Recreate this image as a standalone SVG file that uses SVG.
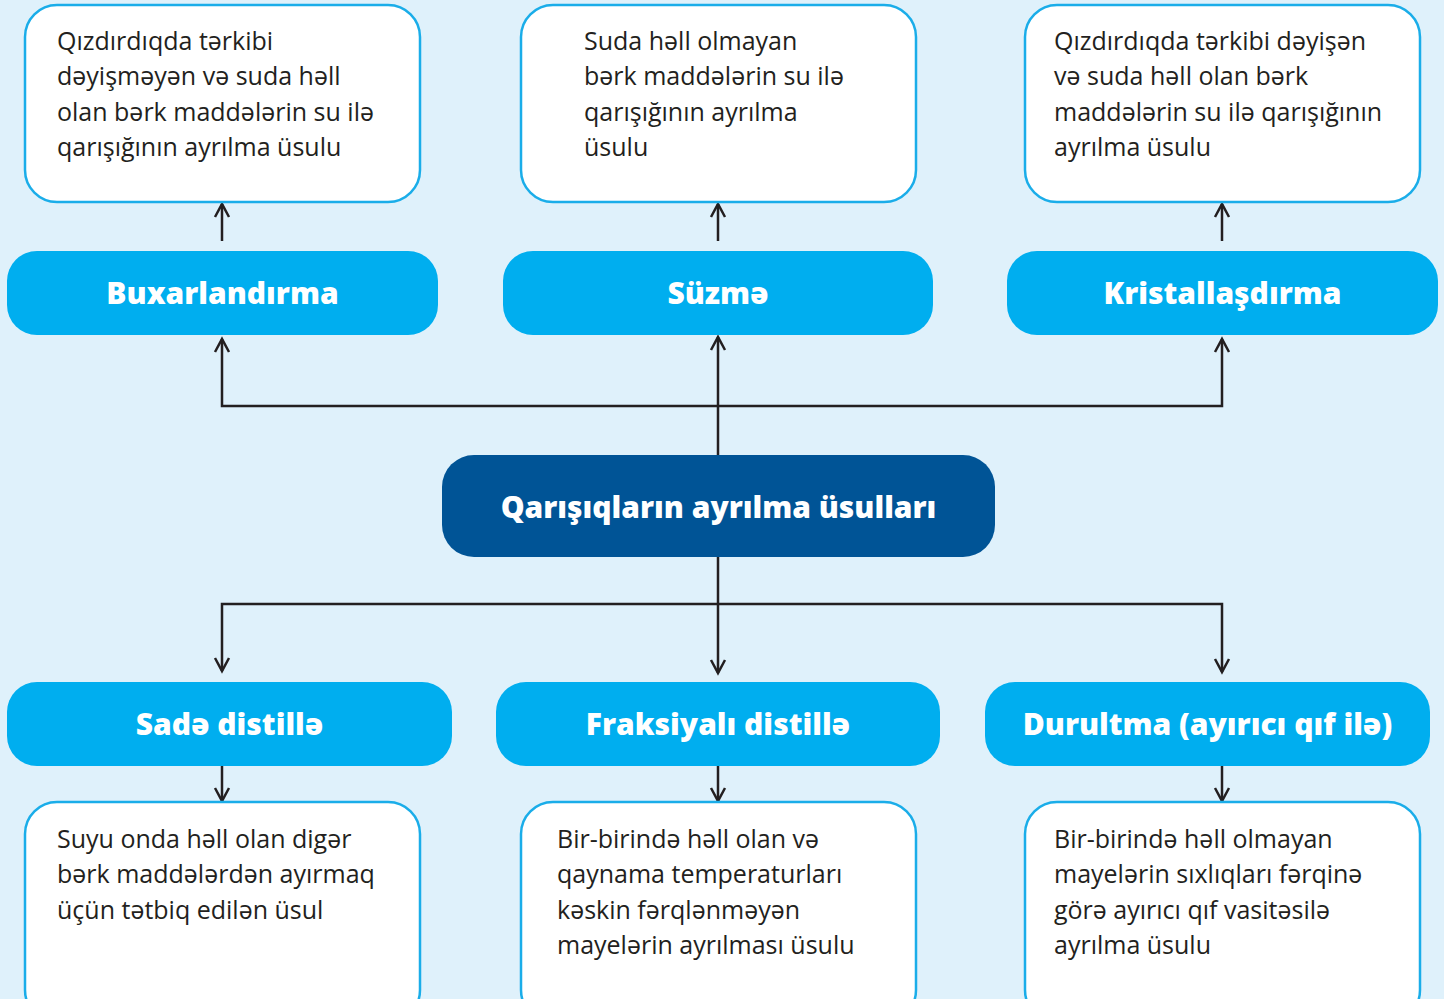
<svg xmlns="http://www.w3.org/2000/svg" width="1444" height="999" viewBox="0 0 1444 999">
<defs>
<marker id="arr" viewBox="-16 -10 20 20" refX="0" refY="0" markerWidth="20" markerHeight="20" markerUnits="userSpaceOnUse" orient="auto">
<path d="M-13,-7 L0,0 L-13,7" fill="none" stroke="#231f20" stroke-width="2.5"/>
</marker>
<style>
.desc{fill:#ffffff;stroke:#1aade9;stroke-width:2.5}
.btn{fill:#00aeef}
.main{fill:#005496}
.body{font-family:"Open Sans","Noto Sans","Liberation Sans",sans-serif;font-size:25px;fill:#231f20}
.title{font-family:"Open Sans","Noto Sans","Liberation Sans",sans-serif;font-size:30px;font-weight:800;fill:#ffffff;text-anchor:middle}
.con{fill:none;stroke:#231f20;stroke-width:2.5}
</style>
</defs>
<rect x="0" y="0" width="1444" height="999" fill="#dff1fb"/>
<g id="connectors">
<path class="con" d="M718,455 V337" marker-end="url(#arr)"/>
<path class="con" d="M718,406 H222 V339" marker-end="url(#arr)"/>
<path class="con" d="M718,406 H1222 V339" marker-end="url(#arr)"/>
<path class="con" d="M222,241 V204" marker-end="url(#arr)"/>
<path class="con" d="M718,241 V204" marker-end="url(#arr)"/>
<path class="con" d="M1222,241 V204" marker-end="url(#arr)"/>
<path class="con" d="M718,557 V673" marker-end="url(#arr)"/>
<path class="con" d="M718,604 H222 V671" marker-end="url(#arr)"/>
<path class="con" d="M718,604 H1222 V672" marker-end="url(#arr)"/>
<path class="con" d="M222,766 V801" marker-end="url(#arr)"/>
<path class="con" d="M718,766 V801" marker-end="url(#arr)"/>
<path class="con" d="M1222,766 V801" marker-end="url(#arr)"/>
</g>
<g id="desc-buxar">
<rect class="desc" x="25" y="5" width="395" height="197" rx="32"/>
<text class="body"><tspan x="57" y="50">Qızdırdıqda tərkibi</tspan><tspan x="57" y="85">dəyişməyən və suda həll</tspan><tspan x="57" y="121">olan bərk maddələrin su ilə</tspan><tspan x="57" y="156">qarışığının ayrılma üsulu</tspan></text>
</g>
<g id="desc-suzme">
<rect class="desc" x="521" y="5" width="395" height="197" rx="32"/>
<text class="body"><tspan x="584" y="50">Suda həll olmayan</tspan><tspan x="584" y="85">bərk maddələrin su ilə</tspan><tspan x="584" y="121">qarışığının ayrılma</tspan><tspan x="584" y="156">üsulu</tspan></text>
</g>
<g id="desc-kristal">
<rect class="desc" x="1025" y="5" width="395" height="197" rx="32"/>
<text class="body"><tspan x="1054" y="50">Qızdırdıqda tərkibi dəyişən</tspan><tspan x="1054" y="85">və suda həll olan bərk</tspan><tspan x="1054" y="121">maddələrin su ilə qarışığının</tspan><tspan x="1054" y="156">ayrılma üsulu</tspan></text>
</g>
<g id="buxarlandirma">
<rect class="btn" x="7" y="251" width="431" height="84" rx="30"/>
<text class="title" x="222.5" y="304">Buxarlandırma</text>
</g>
<g id="suzme">
<rect class="btn" x="503" y="251" width="430" height="84" rx="30"/>
<text class="title" x="718" y="304">Süzmə</text>
</g>
<g id="kristallasdirma">
<rect class="btn" x="1007" y="251" width="431" height="84" rx="30"/>
<text class="title" x="1222.5" y="304">Kristallaşdırma</text>
</g>
<g id="main">
<rect class="main" x="442" y="455" width="553" height="102" rx="32"/>
<text class="title" x="718.5" y="518">Qarışıqların ayrılma üsulları</text>
</g>
<g id="sade">
<rect class="btn" x="7" y="682" width="445" height="84" rx="30"/>
<text class="title" x="229.5" y="735">Sadə distillə</text>
</g>
<g id="fraksiyali">
<rect class="btn" x="496" y="682" width="444" height="84" rx="30"/>
<text class="title" x="718" y="735">Fraksiyalı distillə</text>
</g>
<g id="durultma">
<rect class="btn" x="985" y="682" width="445" height="84" rx="30"/>
<text class="title" x="1207.5" y="735">Durultma (ayırıcı qıf ilə)</text>
</g>
<g id="desc-sade">
<rect class="desc" x="25" y="802" width="395" height="220" rx="32"/>
<text class="body"><tspan x="57" y="848">Suyu onda həll olan digər</tspan><tspan x="57" y="883">bərk maddələrdən ayırmaq</tspan><tspan x="57" y="919">üçün tətbiq edilən üsul</tspan></text>
</g>
<g id="desc-fraksiyali">
<rect class="desc" x="521" y="802" width="395" height="220" rx="32"/>
<text class="body"><tspan x="557" y="848">Bir-birində həll olan və</tspan><tspan x="557" y="883">qaynama temperaturları</tspan><tspan x="557" y="919">kəskin fərqlənməyən</tspan><tspan x="557" y="954">mayelərin ayrılması üsulu</tspan></text>
</g>
<g id="desc-durultma">
<rect class="desc" x="1025" y="802" width="395" height="220" rx="32"/>
<text class="body"><tspan x="1054" y="848">Bir-birində həll olmayan</tspan><tspan x="1054" y="883">mayelərin sıxlıqları fərqinə</tspan><tspan x="1054" y="919">görə ayırıcı qıf vasitəsilə</tspan><tspan x="1054" y="954">ayrılma üsulu</tspan></text>
</g>
</svg>
